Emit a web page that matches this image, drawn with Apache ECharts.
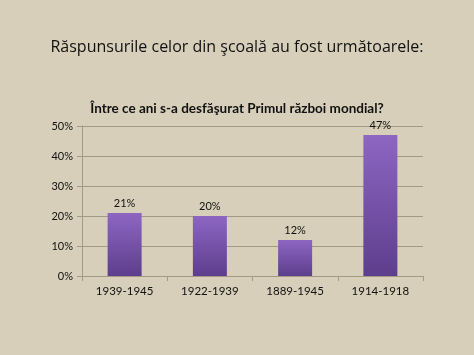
<!DOCTYPE html>
<html><head><meta charset="utf-8">
<script src="https://cdn.jsdelivr.net/npm/echarts@6/dist/echarts.min.js"></script>
<style>html,body{margin:0;padding:0;background:#d8cfba;}#c{width:474px;height:355px;}</style>
</head><body><div id="c"></div>
<script>
const categories = ['1939-1945', '1922-1939', '1889-1945', '1914-1918'];
const values = [21, 20, 12, 47];
const yTicks = [0, 10, 20, 30, 40, 50];
const mainTitle = 'Răspunsurile celor din şcoală au fost următoarele:';
const chartTitle = 'Între ce ani s-a desfăşurat Primul război mondial?';

const chart = echarts.init(document.getElementById('c'));
chart.setOption({
  backgroundColor: '#d8cfba',
  animation: false,
  title: [
    {text: mainTitle, left: 'center', top: 34, textStyle: {fontFamily: 'Open Sans', fontWeight: 'normal', fontSize: 16, color: '#111'}},
    {text: chartTitle, left: 'center', top: 97, textStyle: {fontFamily: 'Lato', fontWeight: 'bold', fontSize: 13.5, color: '#111'}}
  ],
  grid: {left: 82, right: 51, top: 126, bottom: 79},
  xAxis: {
    type: 'category', data: categories,
    axisLine: {lineStyle: {color: '#a39a86'}},
    axisTick: {show: true, lineStyle: {color: '#a39a86'}},
    axisLabel: {fontFamily: 'Lato', fontSize: 11.5, color: '#111', margin: 9}
  },
  yAxis: {
    type: 'value', min: yTicks[0], max: yTicks[yTicks.length-1], interval: 10,
    axisLine: {show: true, lineStyle: {color: '#a39a86'}},
    axisTick: {show: true, lineStyle: {color: '#a39a86'}},
    splitLine: {lineStyle: {color: '#a39a86'}},
    axisLabel: {formatter: '{value}%', fontFamily: 'Lato', fontSize: 11, color: '#111', margin: 9}
  },
  series: [{
    type: 'bar', data: values, barWidth: 34,
    itemStyle: {color: new echarts.graphic.LinearGradient(0,0,0,1,[{offset:0,color:'#8d66c2'},{offset:1,color:'#5d3e8c'}])},
    label: {show: true, position: 'top', formatter: '{c}%', fontFamily: 'Lato', fontSize: 11, color: '#111', distance: 4}
  }]
});
</script></body></html>
